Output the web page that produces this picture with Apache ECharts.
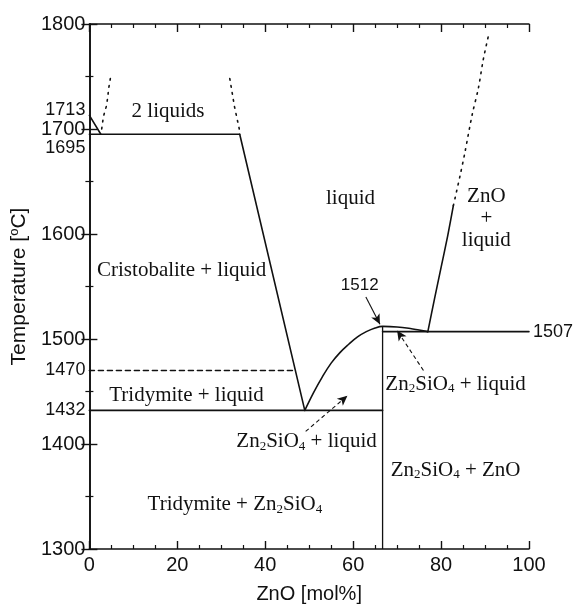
<!DOCTYPE html>
<html>
<head>
<meta charset="utf-8">
<script src="https://cdn.jsdelivr.net/npm/echarts@6/dist/echarts.min.js"></script>
<style>
html,body{margin:0;padding:0;background:#fff;}
#chart{width:576px;height:609px;}
</style>
</head>
<body>
<div id="chart"></div>
<script>
// ---- tick / axis values ----
const xMin = 0, xMax = 100, xInterval = 20;
const yMin = 1300, yMax = 1800, yInterval = 100;
const yLabelValues = [1300, 1400, 1432, 1470, 1500, 1600, 1695, 1700, 1713, 1800];
const ySpecialValues = [1432, 1470, 1695, 1713];
const rightLabelValues = [1507];

// ---- phase boundary lines (ZnO mol%, temperature °C) ----
const siO2Liquidus1713 = [[0, 1713], [2.6, 1695]];
const monotectic1695 = [[0, 1695], [34.2, 1695]];
const siO2Liquidus = [[34.2, 1695], [49, 1432]];
const transition1470 = [[0, 1470], [46.9, 1470]];
const eutectic1432 = [[0, 1432], [66.7, 1432]];
const zn2sio4Liquidus = [[49, 1432], [51, 1449], [53, 1464], [55, 1477], [57, 1487], [59, 1495], [61, 1502], [63, 1507], [65, 1510.5], [66.7, 1512], [70, 1511.5], [73, 1510], [75, 1508.5], [77, 1507]];
const zn2sio4Line = [[66.7, 1300], [66.7, 1512]];
const eutectic1507 = [[66.7, 1507], [100, 1507]];
const znoLiquidus = [[77, 1507], [78.5, 1538], [80, 1568], [81.5, 1598], [82.8, 1627]];
const miscibilityLeft = [[2.8, 1700], [3.2, 1712], [3.85, 1721.5], [4.15, 1729.5], [4.4, 1739], [4.8, 1749]];
const miscibilityRight = [[34.1, 1700], [33.0, 1721.5], [31.9, 1749]];
const znoLiquidusDotted = [[82.8, 1627], [84.3, 1655], [85.4, 1677], [87.1, 1714], [88.5, 1739], [89.6, 1766], [90.9, 1791]];

// ---- arrows [from, to] ----
const arrow1512 = [[62.9, 1540], [66.1, 1514]];
const arrowLowerLiquid = [[49.2, 1412], [58.7, 1446]];
const arrowRightLiquid = [[76, 1470], [70, 1508]];

// ---- region labels [x, y, text] ----
const regionLabels = [
  [17.9, 1717, '{t|2 liquids}'],
  [59.4, 1634, '{t|liquid}'],
  [90.3, 1615, '{t|ZnO}\n{t|+}\n{t|liquid}'],
  [21.0, 1565, '{t|Cristobalite + liquid}'],
  [22.1, 1446, '{t|Tridymite + liquid}'],
  [49.4, 1402, '{t|Zn}{s|2}{t|SiO}{s|4}{t| + liquid}'],
  [83.3, 1457, '{t|Zn}{s|2}{t|SiO}{s|4}{t| + liquid}'],
  [83.3, 1375, '{t|Zn}{s|2}{t|SiO}{s|4}{t| + ZnO}'],
  [33.1, 1342, '{t|Tridymite + Zn}{s|2}{t|SiO}{s|4}']
];
const pointLabels = [[61.5, 1551, '1512']];

const INK = '#111111';
const SANS = 'Liberation Sans, Arial, sans-serif';
const SERIF = 'Liberation Serif, Times New Roman, serif';

function line(data, type, extra) {
  return Object.assign({
    type: 'line', data: data, symbol: 'none', showSymbol: false, silent: true,
    animation: false, z: 3,
    lineStyle: { color: INK, width: 1.6, type: type || 'solid', cap: 'round' }
  }, extra || {});
}

const chart = echarts.init(document.getElementById('chart'), null, { renderer: 'canvas' });

const axisLineStyle = { lineStyle: { color: INK, width: 1.6 } };

const option = {
  backgroundColor: '#fff',
  animation: false,
  grid: { left: 89, right: 45, top: 24, bottom: 57, containLabel: false },
  xAxis: [{
    type: 'value', min: xMin, max: xMax, interval: xInterval,
    axisLine: axisLineStyle,
    axisTick: { inside: true, length: 8, lineStyle: { color: INK, width: 1.4 } },
    minorTick: { show: true, splitNumber: 4, length: 4, lineStyle: { color: INK, width: 1.2 } },
    splitLine: { show: false },
    axisLabel: { fontSize: 20, color: INK, fontFamily: SANS, margin: 6 },
    name: 'ZnO [mol%]', nameLocation: 'middle', nameGap: 35,
    nameTextStyle: { fontSize: 20, color: INK, fontFamily: SANS }
  }, {
    type: 'value', position: 'top', min: xMin, max: xMax, interval: xInterval,
    axisLine: axisLineStyle,
    axisTick: { inside: true, length: 8, lineStyle: { color: INK, width: 1.4 } },
    minorTick: { show: true, splitNumber: 4, length: 4, lineStyle: { color: INK, width: 1.2 } },
    splitLine: { show: false },
    axisLabel: { show: false }
  }],
  yAxis: [{
    type: 'value', min: yMin, max: yMax, interval: yInterval,
    axisLine: Object.assign({ show: true }, axisLineStyle),
    axisTick: { inside: true, length: 8, lineStyle: { color: INK, width: 1.4 } },
    minorTick: { show: true, splitNumber: 2, length: 4, lineStyle: { color: INK, width: 1.2 } },
    splitLine: { show: false },
    axisLabel: {
      customValues: yLabelValues,
      margin: 4,
      formatter: function (v) {
        if (v === 1713) return '{up|' + v + '}';
        if (v === 1695) return '{dn|' + v + '}';
        if (ySpecialValues.indexOf(v) >= 0) return '{e|' + v + '}';
        return '{m|' + v + '}';
      },
      rich: {
        m: { fontSize: 20, color: INK, fontFamily: SANS },
        e: { fontSize: 18, color: INK, fontFamily: SANS },
        up: { fontSize: 18, color: INK, fontFamily: SANS, padding: [0, 0, 10, 0] },
        dn: { fontSize: 18, color: INK, fontFamily: SANS, padding: [28, 0, 0, 0] }
      }
    },
    name: '{n|Temperature [}{o|o}{n|C]}',
    nameLocation: 'middle', nameRotate: 90, nameGap: 57,
    nameTextStyle: {
      rich: {
        n: { fontSize: 21, color: INK, fontFamily: SANS },
        o: { fontSize: 13, color: INK, fontFamily: SANS, verticalAlign: 'top', padding: [0, 0, 10, 0] }
      }
    }
  }, {
    type: 'value', position: 'right', min: yMin, max: yMax, interval: yInterval,
    axisLine: Object.assign({ show: true }, axisLineStyle),
    axisTick: { inside: true, length: 8, lineStyle: { color: INK, width: 1.4 } },
    minorTick: { show: true, splitNumber: 2, length: 4, lineStyle: { color: INK, width: 1.2 } },
    splitLine: { show: false },
    axisLabel: {
      customValues: rightLabelValues, fontSize: 18, color: INK, fontFamily: SANS, margin: 4,
      formatter: function (v) { return String(v); }
    }
  }],
  series: [
    line(siO2Liquidus1713),
    line(monotectic1695),
    line(siO2Liquidus),
    line(transition1470, [5, 4]),
    line(eutectic1432, 'solid', {
      markLine: {
        silent: true, animation: false,
        symbol: ['none', 'arrow'], symbolSize: [7, 10],
        label: { show: false },
        lineStyle: { color: INK, width: 1.1, type: 'solid' },
        data: [
          [{ coord: arrow1512[0] }, { coord: arrow1512[1] }],
          [{ coord: arrowLowerLiquid[0], lineStyle: { type: [4, 3], width: 1.1, color: INK } }, { coord: arrowLowerLiquid[1] }],
          [{ coord: arrowRightLiquid[0], lineStyle: { type: [4, 3], width: 1.1, color: INK } }, { coord: arrowRightLiquid[1] }]
        ]
      }
    }),
    line(zn2sio4Liquidus, 'solid', { smooth: 0.4 }),
    line(zn2sio4Line, 'solid', { lineStyle: { color: INK, width: 1.3 } }),
    line(eutectic1507),
    line(znoLiquidus, 'solid', { smooth: 0.3 }),
    line(miscibilityLeft, [1.6, 5.5]),
    line(miscibilityRight, [1.6, 5.5]),
    line(znoLiquidusDotted, [1.6, 5.5], { smooth: 0.3 }),
    {
      type: 'scatter', silent: true, animation: false, symbolSize: 0, z: 5,
      itemStyle: { opacity: 1, color: INK },
      data: regionLabels.map(function (d) { return { value: [d[0], d[1]], label: { formatter: d[2] } }; }),
      label: {
        show: true, position: 'inside', color: INK, opacity: 1, align: 'center', verticalAlign: 'middle',
        rich: {
          t: { fontSize: 21, fontFamily: SERIF, color: INK, lineHeight: 22 },
          s: { fontSize: 13, fontFamily: SERIF, color: INK, lineHeight: 22, verticalAlign: 'bottom', padding: [8, 0, 0, 0] }
        }
      }
    },
    {
      type: 'scatter', silent: true, animation: false, symbolSize: 0, z: 5,
      itemStyle: { opacity: 1, color: INK },
      data: pointLabels.map(function (d) { return { value: [d[0], d[1]], label: { formatter: d[2] } }; }),
      label: { show: true, position: 'inside', color: INK, opacity: 1, fontSize: 17, fontFamily: SANS }
    }
  ]
};
chart.setOption(option);
</script>
</body>
</html>
